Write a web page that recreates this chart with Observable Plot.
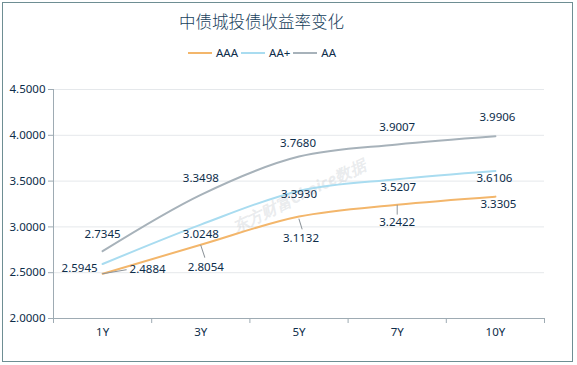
<!DOCTYPE html>
<html><head><meta charset="utf-8">
<script src="https://cdn.jsdelivr.net/npm/d3@7"></script>
<script src="https://cdn.jsdelivr.net/npm/@observablehq/plot@0.6"></script>
<style>
body{margin:0;background:#fff;}
#wrap{position:relative;width:577px;height:365px;overflow:hidden;font-family:"Noto Sans",sans-serif;}
#frame{position:absolute;left:2px;top:2px;width:569px;height:358px;border:1.5px solid #6e8e93;}
#title{position:absolute;left:0;width:523px;top:9px;text-align:center;font-family:"Noto Sans CJK SC",sans-serif;font-weight:300;font-size:16.5px;color:#17415c;line-height:24px;}
#legend{position:absolute;left:188px;top:45px;display:flex;align-items:center;font-size:11.5px;color:#0d2d4a;line-height:16px;}
#legend .sw{width:24px;height:2px;margin-right:4px;}
#legend .lb{margin-right:3px;}
#chart{position:absolute;left:0;top:70px;}
</style></head>
<body>
<div id="wrap">
<div id="frame"></div>
<div id="title">中债城投债收益率变化</div>
<div id="legend"></div>
<div id="chart"></div>
</div>
<script>
const categories = ["1Y", "3Y", "5Y", "7Y", "10Y"];
const seriesNames = ["AAA", "AA+", "AA"];
const aaa = [2.4884, 2.8054, 3.1132, 3.2422, 3.3305];
const aaPlus = [2.5945, 3.0248, 3.3930, 3.5207, 3.6106];
const aa = [2.7345, 3.3498, 3.7680, 3.9007, 3.9906];
const yTicks = [2.0, 2.5, 3.0, 3.5, 4.0, 4.5];
const watermark = "东方财富Choice数据";

// styling
const colors = ["#f3b66b", "#a9dcf0", "#a7b2ba"];
const textColor = "#0d2d4a";
const axisColor = "#9eabb3";
// label offsets in pixels [dx, dy] per series per point
const labelOffsets = [
  [[45, -4], [5, 23], [2, 22], [0, 18], [3, 8]],
  [[-23, 4.5], [0, 10], [0, 3], [1, 8], [-1, 7]],
  [[0, -17], [0, -17], [-1, -13], [0, -17], [2, -18.5]]
];
// leader lines for AAA: [pointIndex, rotateDeg, length, dy]
const leaders = [[0, 80.5, 24, 0], [1, 161.6, 12.6, 0.6], [2, 163, 10.4, 2.5], [3, 180, 9, 0.5]];

const seriesValues = [aaa, aaPlus, aa];
const rows = [];
seriesValues.forEach((vals, s) => vals.forEach((v, i) => rows.push({i, v, s: seriesNames[s], si: s})));

// legend
const legend = document.getElementById("legend");
seriesNames.forEach((n, k) => {
  const sw = document.createElement("div"); sw.className = "sw"; sw.style.background = colors[k];
  const lb = document.createElement("div"); lb.className = "lb"; lb.textContent = n;
  legend.appendChild(sw); legend.appendChild(lb);
});

const labelMarks = rows.map(r => Plot.text([r], {
  x: "i", y: "v", text: d => d.v.toFixed(4),
  dx: labelOffsets[r.si][r.i][0], dy: labelOffsets[r.si][r.i][1],
  fill: textColor
}));
const lineShape = {draw(ctx, l) { ctx.moveTo(0, 0); ctx.lineTo(0, -l); }};
const leaderMarks = leaders.map(([idx, rot, len, dy]) => Plot.vector([rows[idx]], {
  x: "i", y: "v", rotate: rot, length: len, anchor: "start", shape: lineShape,
  stroke: "#8d949a", strokeWidth: 1, dy
}));

const chart = Plot.plot({
  width: 577, height: 280,
  marginTop: 19, marginBottom: 32, marginLeft: 53, marginRight: 33,
  x: {type: "linear", domain: [-0.5, 4.5]},
  y: {domain: [2, 4.5]},
  color: {domain: seriesNames, range: colors},
  style: {fontFamily: "'Noto Sans', sans-serif", fontSize: "11.5px", color: textColor, background: "transparent"},
  marks: [
    Plot.gridY(yTicks, {stroke: "#e5e8eb", strokeOpacity: 1}),
    Plot.text([watermark], {frameAnchor: "middle", text: d => d, rotate: -26, dy: -8, fontSize: 16, fontWeight: "bold", fontStyle: "italic", fill: "#c8cdd2", fillOpacity: 0.4}),
    Plot.line(rows, {x: "i", y: "v", z: "s", stroke: "s", curve: "monotone-x", strokeWidth: 2}),
    ...leaderMarks,
    ...labelMarks,
    Plot.ruleX([-0.5], {stroke: axisColor}),
    Plot.ruleY([2], {stroke: axisColor}),
    Plot.axisY(yTicks, {tickFormat: d => d.toFixed(4), tickSize: 5, tickPadding: 3, stroke: axisColor, fill: textColor, label: null}),
    Plot.axisX(d3.range(6).map(k => k - 0.5), {tickSize: 5, tickFormat: () => "", stroke: axisColor, label: null}),
    Plot.axisX(d3.range(categories.length), {tickSize: 0, tickPadding: 9, tickFormat: i => categories[i], fill: textColor, label: null})
  ]
});
document.getElementById("chart").appendChild(chart);
</script>
</body></html>
